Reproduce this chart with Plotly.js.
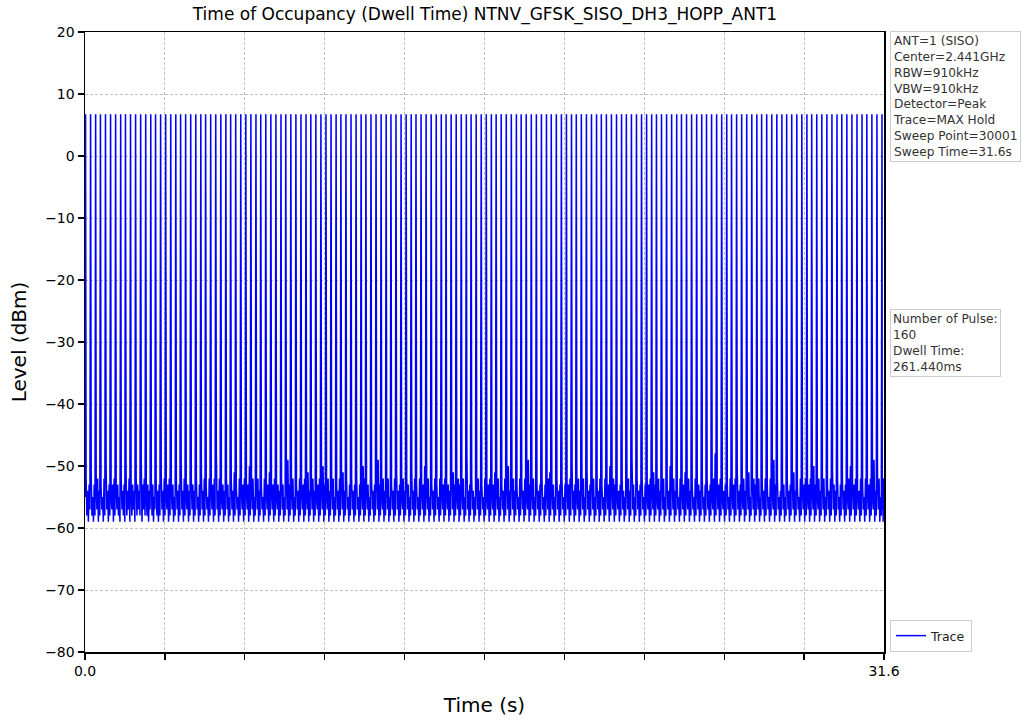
<!DOCTYPE html>
<html>
<head>
<meta charset="utf-8">
<script src="https://cdn.plot.ly/plotly-3.0.1.min.js"></script>
<style>html,body{margin:0;padding:0;background:#fff;}#chart{width:1029px;height:723px;}</style>
</head>
<body>
<div id="chart"></div>
<script>
// ---- data ----
const pulseTimes = [
0.02,0.22,0.42,0.61,0.81,1.01,1.21,1.41,1.60,1.80,2.00,2.20,2.40,2.60,2.79,2.99,3.19,3.39,3.59,3.78,
3.98,4.18,4.38,4.58,4.77,4.97,5.17,5.37,5.57,5.76,5.96,6.16,6.36,6.56,6.76,6.95,7.15,7.35,7.55,7.75,
7.94,8.14,8.34,8.54,8.74,8.93,9.13,9.33,9.53,9.73,9.93,10.12,10.32,10.52,10.72,10.92,11.11,11.31,11.51,11.71,
11.91,12.10,12.30,12.50,12.70,12.90,13.09,13.29,13.49,13.69,13.89,14.09,14.28,14.48,14.68,14.88,15.08,15.27,15.47,15.67,
15.87,16.07,16.26,16.46,16.66,16.86,17.06,17.25,17.45,17.65,17.85,18.05,18.25,18.44,18.64,18.84,19.04,19.24,19.43,19.63,
19.83,20.03,20.23,20.42,20.62,20.82,21.02,21.22,21.41,21.61,21.81,22.01,22.21,22.41,22.60,22.80,23.00,23.20,23.40,23.59,
23.79,23.99,24.19,24.39,24.58,24.78,24.98,25.18,25.38,25.57,25.77,25.97,26.17,26.37,26.57,26.76,26.96,27.16,27.36,27.56,
27.75,27.95,28.15,28.35,28.55,28.74,28.94,29.14,29.34,29.54,29.74,29.93,30.13,30.33,30.53,30.73,30.92,31.12,31.32,31.52];
const pulsePeak = 6.6;        // dBm
const pulseWidth = 0.0016;    // s (261.44 ms / 160)
const startLevel = -55;       // dBm at t = 0
const noiseLevels = [
-52,-58,-54,-59,-53,-57,-51,-58,-55,-59,-53,-58,-54,-57,-52,-59,-54,-58,-53,-57,-55,-59,-52,-58,-50,-57,-54,-59,-53,-58,-55,-57,
-53,-59,-52,-58,-54,-57,-53,-58,-55,-59,-52,-57,-54,-58,-53,-59,-51,-58,-54,-57,-52,-59,-55,-58,-53,-57,-54,-59,-52,-58,-53,-57,
-54,-58,-49,-59,-53,-57,-52,-58,-55,-58,-53,-59,-54,-57,-52,-58,-53,-59,-55,-57,-52,-58,-54,-59,-53,-58,-51,-57,-54,-59,-52,-58,
-55,-57,-53,-59,-52,-58,-54,-57,-53,-59,-55,-58,-52,-57,-54,-59,-53,-58,-50,-57,-54,-59,-52,-58,-55,-57,-53,-59,-54,-58,-52,-57,
-53,-59,-54,-58,-52,-57,-55,-59,-53,-58,-51,-57,-54,-59,-52,-58,-53,-57,-55,-59,-52,-58,-54,-57,-53,-59,-52,-58,-48,-57,-54,-59,
-52,-58,-55,-57,-53,-59,-54,-58,-52,-57,-53,-59,-55,-58,-52,-57,-54,-59,-51,-58,-53,-57,-55,-59,-52,-58,-54,-57,-53,-59,-52,-58,
-54,-57,-53,-59,-50,-58,-54,-57,-52,-59,-55,-58,-53,-57,-52,-59,-54,-58,-53,-57,-55,-59,-52,-58,-54,-57,-53,-59,-51,-58,-54,-57,
-53,-59,-52,-58,-55,-57,-53,-59,-54,-58,-52,-57,-53,-59,-55,-58,-52,-57,-49,-59,-53,-58,-54,-57,-52,-59,-55,-58,-53,-57,-54,-59,
-52,-58,-54,-57,-53,-59,-52,-58,-55,-57,-51,-59,-54,-58,-53,-57,-52,-59,-54,-58,-55,-57,-53,-59,-52,-58,-54,-57,-50,-59,-53,-58,
-55,-57,-52,-59,-54,-58,-53,-57,-52,-59,-55,-58,-53,-57,-54,-59,-52,-58,-53,-57,-51,-59,-54,-58,-52,-57,-55,-59,-53,-58,-52,-57,
-54,-59,-53,-58,-52,-57,-55,-59,-53,-58,-54,-57,-50,-59,-52,-58,-54,-57,-53,-59,-55,-58,-52,-57,-54,-59,-53,-58,-52,-57,-49,-59,
-53,-58,-55,-57,-52,-59,-54,-58,-53,-57,-52,-59,-55,-58,-53,-57,-54,-59,-52,-58,-51,-57,-54,-59,-53,-58,-55,-57,-52,-59,-54,-58,
-52,-57,-53,-59,-55,-58,-51,-57,-54,-59,-52,-58,-53,-57,-55,-59,-52,-58,-54,-57,-53,-59,-50,-58,-54,-57,-52,-59,-55,-58,-53,-57,
-54,-59,-52,-58,-53,-57,-55,-59,-52,-58,-54,-57,-53,-59,-52,-58,-55,-57,-53,-59,-54,-58,-52,-57,-51,-59,-53,-58,-55,-57,-52,-59,
-53,-58,-54,-57,-52,-59,-55,-58,-48,-57,-54,-59,-53,-58,-52,-57,-54,-59,-55,-58,-53,-57,-52,-59,-54,-58,-53,-57,-55,-59,-52,-58,
-55,-57,-53,-59,-52,-58,-54,-57,-53,-59,-51,-58,-54,-57,-52,-59,-55,-58,-53,-57,-54,-59,-52,-58,-53,-57,-50,-59,-54,-58,-52,-57,
-52,-59,-54,-58,-53,-57,-55,-59,-52,-58,-53,-57,-54,-59,-52,-58,-55,-57,-49,-59,-53,-58,-54,-57,-52,-59,-55,-58,-53,-57,-54,-59,
-53,-58,-52,-57,-55,-59,-53,-58,-54,-57,-52,-59,-51,-58,-54,-57,-53,-59,-55,-58,-52,-57,-54,-59,-53,-58,-52,-57,-55,-59,-53,-58,
-54,-57,-53,-59,-52,-58,-50,-57,-54,-59,-53,-58,-55,-57,-52,-59,-54,-58,-53,-57,-52,-59,-55,-58,-51,-57,-54,-59,-53,-58,-52,-57,
-52,-59,-55,-58,-53,-57,-54,-59,-52,-58,-53,-57,-55,-59,-52,-58,-54,-57,-53,-59,-50,-58,-54,-57,-52,-59,-53,-58,-55,-57,-54,-59,
-53,-58,-52,-57,-54,-59,-55,-58,-53,-57,-52,-59,-54,-58,-49,-57,-53,-59,-55,-58,-52,-57,-54,-59,-53,-58,-52,-57,-55,-59,-53,-58,
-55,-57,-53,-59,-52,-58,-54,-57,-51,-59,-53,-58,-55,-57,-52,-59,-54,-58,-53,-57,-52,-59,-55,-58,-53,-57,-54,-59,-50,-58,-52,-57,
-52,-59,-54,-58,-53,-57,-55,-59,-52,-58,-54,-57,-53,-59,-51,-58,-55,-57,-52,-59,-54,-58,-53,-57,-55,-59,-52,-58,-54,-57,-53,-59,
-54,-58,-52,-57,-55,-59,-53,-58,-52,-57,-54,-59,-53,-58,-55,-57,-52,-59,-48,-58,-54,-57,-53,-59,-52,-58,-55,-57,-54,-59,-53,-58,
-53,-57,-55,-59,-52,-58,-54,-57,-53,-59,-52,-58,-50,-57,-54,-59,-53,-58,-55,-57,-52,-59,-54,-58,-53,-57,-51,-59,-55,-58,-52,-57,
-52,-59,-53,-58,-54,-57,-52,-59,-55,-58,-53,-57,-54,-59,-52,-58,-53,-57,-55,-59,-52,-58,-54,-57,-49,-59,-53,-58,-52,-57,-55,-59,
-54,-58,-52,-57,-53,-59,-55,-58,-52,-57,-54,-59,-53,-58,-52,-57,-51,-59,-54,-58,-53,-57,-55,-59,-52,-58,-54,-57,-53,-59,-52,-58,
-55,-57,-53,-59,-52,-58,-54,-57,-50,-59,-53,-58,-55,-57,-52,-59,-54,-58,-53,-57,-52,-59,-55,-58,-53,-57,-54,-59,-52,-58,-51,-57,
-53,-59,-54,-58,-52,-57,-55,-59,-53,-58,-52,-57,-54,-59,-53,-58,-55,-57,-52,-59,-50,-58,-54,-57,-53,-59,-52,-58,-55,-57,-54,-59,
-52,-58,-53,-57,-55,-59,-52,-58,-54,-57,-53,-59,-52,-58,-55,-57,-49,-59,-54,-58,-53,-57,-52,-59,-55,-58,-53,-57,-54,-59,-52,-58];
const noiseFractions = [0.12, 0.27, 0.42, 0.57, 0.72, 0.87];
const sweepEnd = 31.6;

const xTickVals = [0, 3.16, 6.32, 9.48, 12.64, 15.8, 18.96, 22.12, 25.28, 28.44, 31.6];
const xTickText = ['0.0', '', '', '', '', '', '', '', '', '', '31.6'];
const yTickVals = [-80, -70, -60, -50, -40, -30, -20, -10, 0, 10, 20];
const yTickText = ['\u221280', '\u221270', '\u221260', '\u221250', '\u221240', '\u221230', '\u221220', '\u221210', '0', '10', '20'];

const titleText = 'Time of Occupancy (Dwell Time) NTNV_GFSK_SISO_DH3_HOPP_ANT1';
const infoLines = ['ANT=1 (SISO)', 'Center=2.441GHz', 'RBW=910kHz', 'VBW=910kHz', 'Detector=Peak',
                   'Trace=MAX Hold', 'Sweep Point=30001', 'Sweep Time=31.6s'];
const pulseLines = ['Number of Pulse:', '160', 'Dwell Time:', '261.440ms'];

// ---- build trace ----
const xs = [0], ys = [startLevel];
const perGap = noiseFractions.length;
for (let i = 0; i < pulseTimes.length; i++) {
  const t = pulseTimes[i];
  xs.push(t, t + pulseWidth);
  ys.push(pulsePeak, pulsePeak);
  const end = i < pulseTimes.length - 1 ? pulseTimes[i + 1] : sweepEnd;
  const gap = end - t;
  for (let k = 0; k < perGap; k++) {
    xs.push(t + noiseFractions[k] * gap);
    ys.push(noiseLevels[i * perGap + k]);
  }
}

const FONT = 'DejaVu Sans, sans-serif';
const trace = {
  type: 'scatter', mode: 'lines', x: xs, y: ys, name: 'Trace',
  line: {color: '#0000ff', width: 1.5, simplify: false}, hoverinfo: 'skip'
};

const layout = {
  width: 1029, height: 723,
  margin: {l: 85, r: 145, t: 32, b: 71},
  paper_bgcolor: '#ffffff', plot_bgcolor: '#ffffff',
  font: {family: FONT, color: '#000'},
  title: {text: titleText, font: {family: FONT, size: 17, color: '#000'}, x: 0.4713, xanchor: 'center', y: 0.981, yanchor: 'middle'},
  showlegend: true,
  legend: {x: 1.0075, xanchor: 'left', y: 0, yanchor: 'bottom', bgcolor: '#fff', bordercolor: '#cccccc', borderwidth: 1,
           font: {family: FONT, size: 12.5, color: '#222'}},
  xaxis: {
    range: [0, sweepEnd], tickmode: 'array', tickvals: xTickVals, ticktext: xTickText,
    ticks: 'outside', ticklen: 6, tickwidth: 1.2, tickcolor: '#000',
    showline: true, linecolor: '#000', linewidth: 1.5, mirror: true,
    showgrid: true, gridcolor: '#b0b0b0', gridwidth: 0.8, griddash: '3px,2px',
    zeroline: false, tickfont: {family: FONT, size: 14, color: '#000'},
    title: {text: 'Time (s)', font: {family: FONT, size: 20, color: '#000'}, standoff: 19}
  },
  yaxis: {
    range: [-80, 20], tickmode: 'array', tickvals: yTickVals, ticktext: yTickText,
    ticks: 'outside', ticklen: 6, tickwidth: 1.2, tickcolor: '#000',
    showline: true, linecolor: '#000', linewidth: 1.5, mirror: true,
    showgrid: true, gridcolor: '#b0b0b0', gridwidth: 0.8, griddash: '3px,2px',
    zeroline: false, tickfont: {family: FONT, size: 14, color: '#000'},
    title: {text: 'Level (dBm)', font: {family: FONT, size: 20, color: '#000'}, standoff: 13}
  },
  annotations: [
    {xref: 'paper', yref: 'paper', x: 1, y: 1, xanchor: 'left', yanchor: 'top', xshift: 6, yshift: 1,
     text: infoLines.join('<br>'), align: 'left', showarrow: false,
     font: {family: FONT, size: 12.2, color: '#333'}, bgcolor: '#fff', bordercolor: '#cccccc', borderwidth: 1, borderpad: 2},
    {xref: 'paper', yref: 'paper', x: 1, y: 0.553, xanchor: 'left', yanchor: 'top', xshift: 6,
     text: pulseLines.join('<br>'), align: 'left', showarrow: false,
     font: {family: FONT, size: 12.2, color: '#333'}, bgcolor: '#fff', bordercolor: '#cccccc', borderwidth: 1, borderpad: 2}
  ]
};

Plotly.newPlot('chart', [trace], layout, {staticPlot: true, displayModeBar: false});
</script>
</body>
</html>
